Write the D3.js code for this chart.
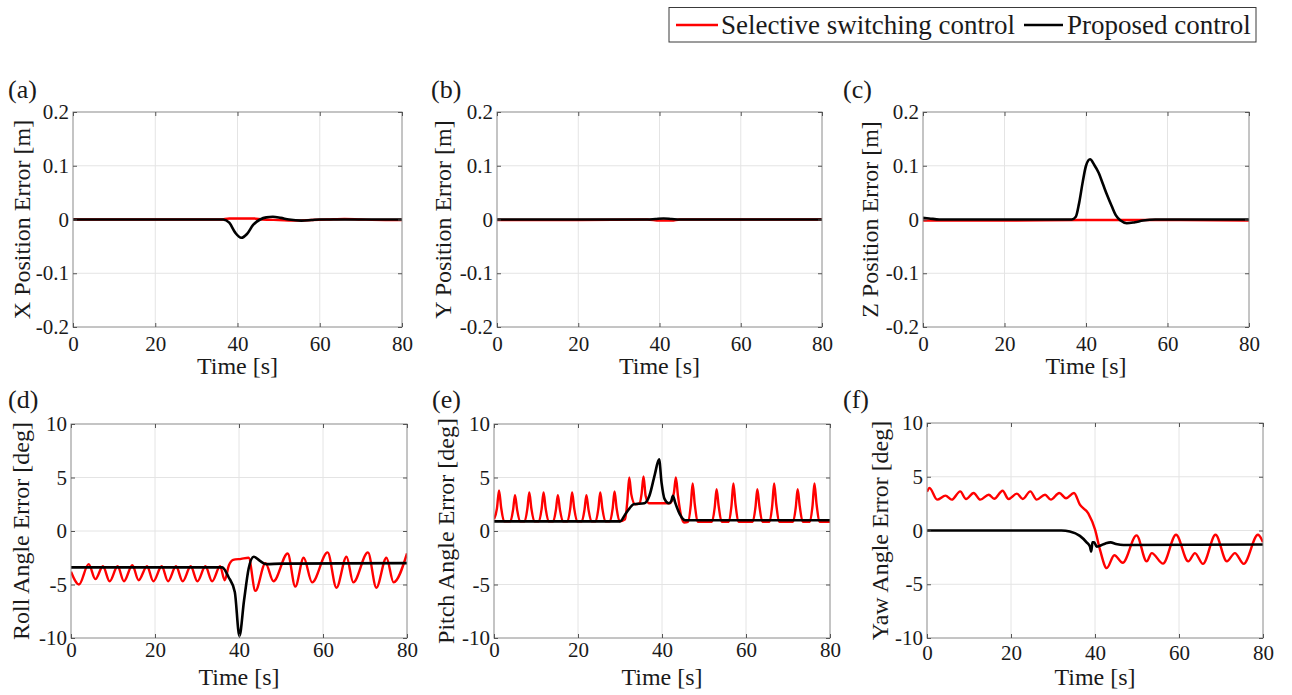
<!DOCTYPE html>
<html><head><meta charset="utf-8">
<script src="https://cdn.jsdelivr.net/npm/d3@7/dist/d3.min.js"></script>
<style>body{margin:0;background:#fff}svg{display:block;background:#fff}</style>
</head><body><svg id="c" width="1292" height="695"></svg>
<script>
// ---------------- DATA ----------------
const seriesNames = ["Selective switching control", "Proposed control"];
const timeTicks = [0, 20, 40, 60, 80];
const timeTickLabels = ["0", "20", "40", "60", "80"];
const posTicks = [-0.2, -0.1, 0, 0.1, 0.2];
const posTickLabels = ["-0.2", "-0.1", "0", "0.1", "0.2"];
const angTicks = [-10, -5, 0, 5, 10];
const angTickLabels = ["-10", "-5", "0", "5", "10"];

// (a) X position error [m]
const xSelective = [[0,0],[36,0],[38,0.002],[44,0.002],[46,0],[50,-0.001],[55,-0.002],[58,-0.001],[62,0],[66,0.001],[70,0],[76,-0.001],[80,-0.001]];
const xProposed = [[0,0],[36.5,0],[38,-0.006],[39.5,-0.025],[40.9,-0.034],[42.3,-0.027],[43.8,-0.01],[45.5,0],[47,0.004],[48.6,0.005],[50.5,0.003],[52.5,0],[55.5,-0.002],[58,-0.001],[60,0],[80,0]];
// (b) Y position error [m]
const ySelective = [[0,-0.001],[20,-0.001],[37,0],[40,-0.002],[43,-0.002],[45,0],[80,0]];
const yProposed = [[0,0],[37,0],[39,0.001],[41,0.002],[43,0.001],[45,0],[80,0]];
// (c) Z position error [m]
const zSelective = [[0,-0.002],[20,-0.002],[40,-0.001],[60,-0.001],[80,-0.002]];
const zProposed = [[0,0.003],[1.5,0.002],[4,0],[36.5,0],[37.5,0.005],[38.3,0.03],[39.2,0.07],[40,0.1],[41,0.112],[42,0.102],[43.1,0.087],[44.2,0.065],[45.2,0.045],[46.3,0.025],[47.3,0.008],[48.5,-0.002],[50,-0.007],[52,-0.005],[54,-0.002],[57,0],[80,0]];
// (d) Roll angle error [deg]
const rollSelective = [[0,-3.8],[1.9,-5.0],[4.2,-3.1],[5.8,-4.5],[7.6,-3.3],[9.2,-4.7],[11.1,-3.3],[12.6,-4.7],[14.6,-3.2],[16.1,-4.6],[18.1,-3.3],[19.6,-4.7],[21.6,-3.3],[23.1,-4.7],[25.0,-3.3],[26.6,-4.7],[28.5,-3.3],[30.1,-4.7],[32.0,-3.3],[33.6,-4.7],[35.5,-3.3],[36.6,-4.6],[37.6,-3.2],[38.6,-2.7],[40.5,-2.6],[42.3,-2.5],[43.9,-5.6],[46.3,-3.0],[48.2,-4.7],[51.6,-2.1],[53.4,-5.2],[55.4,-2.5],[57.4,-4.8],[61.1,-2.0],[63.2,-5.3],[65.6,-2.4],[67.2,-4.8],[70.7,-2.0],[72.7,-5.3],[75.1,-2.5],[76.8,-4.8],[80,-2.1]];
const rollProposed = [[0,-3.4],[36,-3.4],[37.5,-4.3],[39,-5.7],[40.1,-9.8],[41.2,-6.5],[42.3,-3.5],[43.5,-2.4],[45,-2.8],[46.5,-3.1],[50,-3.05],[80,-3.0]];
// (e) Pitch angle error [deg]
const pitchSelective = [[0,1.1],[0.7,2.1],[1.2,3.8],[1.7,2.2],[2.4,0.9],
 [3.9,0.9],[4.55,2.0],[5.0,3.35],[5.5,2.0],[6.2,0.9],
 [7.3,0.9],[7.95,2.1],[8.4,3.6],[8.9,2.1],[9.6,0.9],
 [10.7,0.9],[11.35,2.1],[11.8,3.6],[12.3,2.1],[13.0,0.9],
 [14.1,0.9],[14.75,2.0],[15.2,3.35],[15.7,2.0],[16.4,0.9],
 [17.5,0.9],[18.15,2.1],[18.6,3.6],[19.1,2.1],[19.8,0.9],
 [20.9,0.9],[21.55,2.0],[22.0,3.35],[22.5,2.0],[23.2,0.9],
 [24.2,0.9],[24.85,2.1],[25.3,3.6],[25.8,2.1],[26.5,0.9],
 [27.6,0.9],[28.25,2.1],[28.7,3.7],[29.2,2.1],[29.9,0.9],
 [31.2,1.1],[31.75,2.8],[32.2,5.0],[32.7,3.4],[33.6,2.5],[34.7,2.6],[35.15,3.5],[35.6,5.1],[36.1,3.3],[36.9,2.6],
 [41.9,2.6],[42.85,3.6],[43.3,5.0],[43.8,3.3],[44.5,1.5],[45.3,0.8],
 [46.2,0.85],[46.85,2.4],[47.3,4.45],[47.8,2.5],[48.6,0.85],
 [51.9,0.85],[52.55,2.2],[53.0,3.9],[53.5,2.3],[54.2,0.85],
 [55.9,0.85],[56.55,2.4],[57.0,4.45],[57.5,2.5],[58.3,0.85],
 [61.6,0.85],[62.25,2.2],[62.7,3.9],[63.2,2.3],[63.9,0.85],
 [65.6,0.85],[66.25,2.4],[66.7,4.45],[67.2,2.5],[68.0,0.85],
 [71.2,0.85],[71.85,2.2],[72.3,3.9],[72.8,2.3],[73.5,0.85],
 [75.2,0.85],[75.85,2.4],[76.3,4.45],[76.8,2.5],[77.6,0.85],[80,0.85]];
const pitchProposed = [[0,0.9],[30,0.9],[31.5,1.7],[33.3,2.5],[35.8,2.6],[37,3.3],[38.3,5.3],[39.3,6.7],[39.9,4.5],[40.6,3.0],[41.6,2.6],[42.2,2.8],[42.6,3.3],[43.1,2.7],[44.2,1.6],[45.5,1.0],[80,1.0]];
// (f) Yaw angle error [deg]
const yawSelective = [[0,3.6],[0.6,3.95],[2.4,2.87],[4.4,3.24],[5.9,2.87],[7.9,3.64],[9.3,2.93],[11.1,3.49],[12.7,2.87],[14.7,3.33],[16.0,2.95],[18.0,3.7],[19.4,2.93],[21.4,3.43],[22.8,2.93],[24.6,3.64],[26.1,2.87],[28.1,3.33],[29.5,2.87],[31.5,3.49],[33.1,3.0],[35.0,3.49],[36.4,2.4],[38.4,1.6],[40.0,0.1],[41.2,-1.8],[42.8,-3.5],[44.6,-2.3],[46.6,-3.0],[49.9,-0.45],[52.3,-2.87],[53.5,-2.1],[56.2,-3.08],[59.3,-0.4],[62.2,-2.87],[63.8,-2.1],[65.7,-3.1],[68.7,-0.4],[71.4,-2.87],[73.3,-2.1],[75.4,-3.1],[78.8,-0.4],[80,-1.1]];
const yawProposed = [[0,0],[32,0],[34,-0.1],[36.4,-0.5],[38,-1.1],[38.8,-1.5],[39.1,-1.95],[39.4,-1.1],[39.8,-1.1],[40.4,-1.5],[41.0,-1.45],[42.5,-1.2],[43.7,-1.1],[45,-1.25],[46.8,-1.35],[80,-1.3]];

// ---------------- LAYOUT / STYLE ----------------
const panels = [
  {label:"(a)", title:"X Position Error [m]", sel:xSelective, prop:xProposed, yt:posTicks, ytl:posTickLabels, dom:[-0.2,0.2],
   x0:73, x1:402, y0:112, y1:327, lx:8, ly:98, tx:29.5, xlb:23.5, xtb:47},
  {label:"(b)", title:"Y Position Error [m]", sel:ySelective, prop:yProposed, yt:posTicks, ytl:posTickLabels, dom:[-0.2,0.2],
   x0:497, x1:822, y0:112, y1:327, lx:431, ly:98, tx:451, xlb:23.5, xtb:47},
  {label:"(c)", title:"Z Position Error [m]", sel:zSelective, prop:zProposed, yt:posTicks, ytl:posTickLabels, dom:[-0.2,0.2],
   x0:923, x1:1249, y0:112, y1:327, lx:843, ly:98, tx:878, xlb:23.5, xtb:47},
  {label:"(d)", title:"Roll Angle Error [deg]", sel:rollSelective, prop:rollProposed, yt:angTicks, ytl:angTickLabels, dom:[-10,10],
   x0:71, x1:407, y0:424, y1:638, lx:8, ly:408, tx:29, xlb:19, xtb:47},
  {label:"(e)", title:"Pitch Angle Error [deg]", sel:pitchSelective, prop:pitchProposed, yt:angTicks, ytl:angTickLabels, dom:[-10,10],
   x0:494, x1:830, y0:424, y1:638, lx:432, ly:408, tx:454, xlb:19, xtb:47},
  {label:"(f)", title:"Yaw Angle Error [deg]", sel:yawSelective, prop:yawProposed, yt:angTicks, ytl:angTickLabels, dom:[-10,10],
   x0:927, x1:1263, y0:423, y1:638, lx:843, ly:408, tx:888, xlb:22, xtb:47}
];
const FONT = "'Liberation Serif','Times New Roman',serif";
const TXT = "#1a1a1a";
const RED = "#ff0000", BLACK = "#000000";

const svg = d3.select("#c");

panels.forEach((p, i) => {
  const x = d3.scaleLinear().domain([0, 80]).range([p.x0, p.x1]);
  const y = d3.scaleLinear().domain(p.dom).range([p.y1, p.y0]);
  const g = svg.append("g");

  // grid
  g.append("g").selectAll("line").data(timeTicks.slice(1, -1)).join("line")
    .attr("x1", d => x(d)).attr("x2", d => x(d)).attr("y1", p.y0).attr("y2", p.y1)
    .attr("stroke", "#e4e4e4").attr("stroke-width", 1);
  g.append("g").selectAll("line").data(p.yt.slice(1, -1)).join("line")
    .attr("y1", d => y(d)).attr("y2", d => y(d)).attr("x1", p.x0).attr("x2", p.x1)
    .attr("stroke", "#e4e4e4").attr("stroke-width", 1);

  // clip
  const cid = "clip" + i;
  svg.append("clipPath").attr("id", cid).append("rect")
    .attr("x", p.x0).attr("y", p.y0 - 2).attr("width", p.x1 - p.x0).attr("height", p.y1 - p.y0 + 4);

  const line = d3.line().x(d => x(d[0])).y(d => y(d[1])).curve(d3.curveMonotoneX);
  const lg = g.append("g").attr("clip-path", `url(#${cid})`);
  lg.append("path").attr("d", line(p.sel)).attr("fill", "none").attr("stroke", RED).attr("stroke-width", 2.4).attr("stroke-linejoin", "round");
  lg.append("path").attr("d", line(p.prop)).attr("fill", "none").attr("stroke", BLACK).attr("stroke-width", 2.6).attr("stroke-linejoin", "round");

  // box
  g.append("rect").attr("x", p.x0).attr("y", p.y0).attr("width", p.x1 - p.x0).attr("height", p.y1 - p.y0)
    .attr("fill", "none").attr("stroke", "#8a8a8a").attr("stroke-width", 1);

  // axes
  const styleAxis = sel => {
    sel.select(".domain").remove();
    sel.selectAll(".tick line").attr("stroke", "#555");
    sel.selectAll("text").attr("font-family", FONT).attr("font-size", 21).attr("fill", TXT);
  };
  g.append("g").attr("transform", `translate(${p.x0},0)`)
    .call(d3.axisLeft(y).tickValues(p.yt).tickFormat((d, k) => p.ytl[k]).tickSizeInner(-4).tickSizeOuter(0).tickPadding(4))
    .call(styleAxis);
  g.append("g").attr("transform", `translate(${p.x1},0)`)
    .call(d3.axisRight(y).tickValues(p.yt).tickFormat("").tickSizeInner(-4).tickSizeOuter(0))
    .call(styleAxis);
  const xb = g.append("g").attr("transform", `translate(0,${p.y1})`)
    .call(d3.axisBottom(x).tickValues(timeTicks).tickFormat((d, k) => timeTickLabels[k]).tickSizeInner(-4).tickSizeOuter(0).tickPadding(0))
    .call(styleAxis);
  xb.selectAll("text").attr("dy", null).attr("y", p.xlb);
  g.append("g").attr("transform", `translate(0,${p.y0})`)
    .call(d3.axisTop(x).tickValues(timeTicks).tickFormat("").tickSizeInner(-4).tickSizeOuter(0))
    .call(styleAxis);

  // titles
  g.append("text").attr("x", (p.x0 + p.x1) / 2).attr("y", p.y1 + p.xtb)
    .attr("text-anchor", "middle").attr("font-family", FONT).attr("font-size", 24).attr("fill", TXT)
    .text("Time [s]");
  g.append("text").attr("transform", `translate(${p.tx},${(p.y0 + p.y1) / 2}) rotate(-90)`)
    .attr("text-anchor", "middle").attr("font-family", FONT).attr("font-size", 24).attr("fill", TXT)
    .text(p.title);
  g.append("text").attr("x", p.lx).attr("y", p.ly)
    .attr("font-family", FONT).attr("font-size", 26).attr("fill", TXT).text(p.label);
});

// legend
const lgd = svg.append("g");
lgd.append("rect").attr("x", 669).attr("y", 7.5).attr("width", 587).attr("height", 34.5)
  .attr("fill", "#fff").attr("stroke", "#3a3a3a").attr("stroke-width", 1);
const legendItems = [
  {name: seriesNames[0], color: RED, lx0: 676, lx1: 718, tx: 721},
  {name: seriesNames[1], color: BLACK, lx0: 1024, lx1: 1063, tx: 1067}
];
legendItems.forEach(it => {
  lgd.append("line").attr("x1", it.lx0).attr("x2", it.lx1).attr("y1", 25).attr("y2", 25)
    .attr("stroke", it.color).attr("stroke-width", 2.6);
  lgd.append("text").attr("x", it.tx).attr("y", 33.5).attr("font-family", FONT).attr("font-size", 27)
    .attr("fill", TXT).text(it.name);
});
</script>
</body></html>
